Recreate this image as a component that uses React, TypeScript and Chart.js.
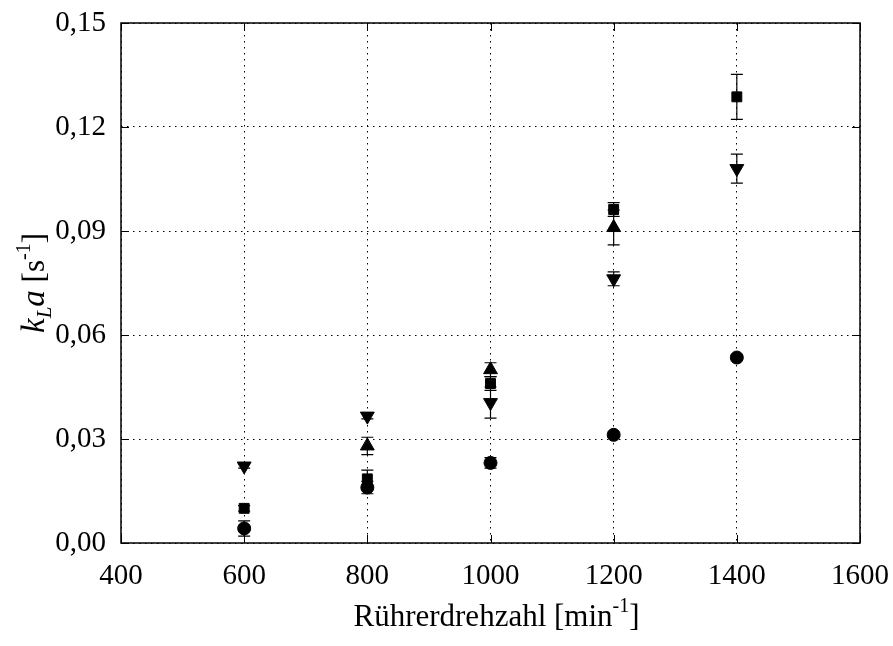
import React, { useEffect, useRef } from "react";
import { Chart, registerables } from "chart.js";

Chart.register(...registerables);

const rpm = [600, 800, 1000, 1200, 1400];
const squareVals = [0.0100, 0.0185, 0.0460, 0.0962, 0.1287];
const squareErr = [0.0008, 0.0025, 0.0020, 0.0020, 0.0065];
const circleVals = [0.0042, 0.0160, 0.0231, 0.0312, 0.0535];
const circleErr = [0.0022, 0.0018, 0.0015, 0.0008, 0.0007];
const triUpVals = [null, 0.0280, 0.0500, 0.0910, null];
const triUpErr = [null, 0.0025, 0.0020, 0.0050, null];
const triDownVals = [0.0222, 0.0366, 0.0405, 0.0762, 0.1080];
const triDownErr = [0.0006, 0.0008, 0.0045, 0.0020, 0.0042];

const xTicks = [400, 600, 800, 1000, 1200, 1400, 1600];
const yTicks = [0, 0.03, 0.06, 0.09, 0.12, 0.15];

const FONT = "'Liberation Serif', 'Times New Roman', serif";

function toPoints(vals: (number | null)[]) {
  return rpm
    .map((x, i) => ({ x, y: vals[i] }))
    .filter((p) => p.y !== null);
}

const errorBars = {
  id: "errorBars",
  afterDatasetsDraw(chart: any) {
    const ctx = chart.ctx;
    const ys = chart.scales.y;
    const xs = chart.scales.x;
    ctx.save();
    ctx.strokeStyle = "#000";
    ctx.lineWidth = 1.2;
    chart.data.datasets.forEach((ds: any) => {
      const errs = ds.errors as (number | null)[];
      ds.data.forEach((p: any) => {
        const idx = rpm.indexOf(p.x);
        const e = errs[idx];
        if (e == null) return;
        const px = xs.getPixelForValue(p.x);
        const y1 = ys.getPixelForValue(p.y + e);
        const y2 = ys.getPixelForValue(p.y - e);
        ctx.beginPath();
        ctx.moveTo(px, y1);
        ctx.lineTo(px, y2);
        ctx.moveTo(px - 6, y1);
        ctx.lineTo(px + 6, y1);
        ctx.moveTo(px - 6, y2);
        ctx.lineTo(px + 6, y2);
        ctx.stroke();
      });
    });
    ctx.restore();
  },
};

const frame = {
  id: "frame",
  afterDraw(chart: any) {
    const { ctx, chartArea: a } = chart;
    const xs = chart.scales.x;
    const ys = chart.scales.y;
    ctx.save();
    ctx.strokeStyle = "#000";
    ctx.lineWidth = 1.5;
    ctx.strokeRect(a.left, a.top, a.right - a.left, a.bottom - a.top);
    ctx.lineWidth = 1;
    ctx.beginPath();
    xTicks.forEach((v) => {
      const px = Math.round(xs.getPixelForValue(v)) + 0.5;
      ctx.moveTo(px, a.bottom);
      ctx.lineTo(px, a.bottom - 8);
      ctx.moveTo(px, a.top);
      ctx.lineTo(px, a.top + 8);
    });
    yTicks.forEach((v) => {
      const py = Math.round(ys.getPixelForValue(v)) + 0.5;
      ctx.moveTo(a.left, py);
      ctx.lineTo(a.left + 8, py);
      ctx.moveTo(a.right, py);
      ctx.lineTo(a.right - 8, py);
    });
    ctx.stroke();

    // x title
    ctx.fillStyle = "#000";
    const cx = (a.left + a.right) / 2 + 6;
    const base = 626;
    const main = "Rührerdrehzahl [min";
    const sup = "-1";
    const end = "]";
    ctx.textBaseline = "alphabetic";
    ctx.font = `31px ${FONT}`;
    const w1 = ctx.measureText(main).width;
    const w3 = ctx.measureText(end).width;
    ctx.font = `20px ${FONT}`;
    const w2 = ctx.measureText(sup).width;
    const x0 = cx - (w1 + w2 + w3) / 2;
    ctx.textAlign = "left";
    ctx.font = `31px ${FONT}`;
    ctx.fillText(main, x0, base);
    ctx.font = `20px ${FONT}`;
    ctx.fillText(sup, x0 + w1, base - 14);
    ctx.font = `31px ${FONT}`;
    ctx.fillText(end, x0 + w1 + w2, base);

    // y title (rotated)
    ctx.save();
    ctx.translate(44, (a.top + a.bottom) / 2);
    ctx.rotate(-Math.PI / 2);
    const parts = [
      { t: "k", f: `italic 33px ${FONT}`, dy: 0 },
      { t: "L", f: `italic 21px ${FONT}`, dy: 7 },
      { t: "a", f: `italic 33px ${FONT}`, dy: 0 },
      { t: " [s", f: `31px ${FONT}`, dy: 0 },
      { t: "-1", f: `20px ${FONT}`, dy: -14 },
      { t: "]", f: `31px ${FONT}`, dy: 0 },
    ];
    let total = 0;
    const widths = parts.map((p) => {
      ctx.font = p.f;
      const w = ctx.measureText(p.t).width;
      total += w;
      return w;
    });
    let xx = -total / 2;
    parts.forEach((p, i) => {
      ctx.font = p.f;
      ctx.fillText(p.t, xx, p.dy);
      xx += widths[i];
    });
    ctx.restore();
    ctx.restore();
  },
};

function zeroPad(s: any) {
  s.paddingTop = 0;
  s.paddingBottom = 0;
  s.paddingLeft = 0;
  s.paddingRight = 0;
}

export default function App() {
  const ref = useRef<HTMLCanvasElement>(null);
  useEffect(() => {
    document.body.style.margin = "0";
    const common = {
      backgroundColor: "#000",
      borderColor: "#000",
      showLine: false,
    };
    const chart = new Chart(ref.current as HTMLCanvasElement, {
      type: "scatter",
      data: {
        datasets: [
          { ...common, label: "square", data: toPoints(squareVals), errors: squareErr, pointStyle: "rect", pointRadius: 7 } as any,
          { ...common, label: "circle", data: toPoints(circleVals), errors: circleErr, pointStyle: "circle", pointRadius: 6.5 } as any,
          { ...common, label: "triUp", data: toPoints(triUpVals), errors: triUpErr, pointStyle: "triangle", pointRadius: 8 } as any,
          { ...common, label: "triDown", data: toPoints(triDownVals), errors: triDownErr, pointStyle: "triangle", rotation: 180, pointRadius: 8 } as any,
        ],
      },
      options: {
        animation: false,
        responsive: false,
        devicePixelRatio: 1,
        layout: { padding: { left: 0, top: 23, right: 33, bottom: 0 } },
        plugins: { legend: { display: false }, tooltip: { enabled: false } },
        scales: {
          x: {
            type: "linear",
            min: 400,
            max: 1600,
            afterBuildTicks: (s: any) => {
              s.ticks = xTicks.map((v) => ({ value: v }));
            },
            afterFit: (s: any) => {
              s.height = 103;
              zeroPad(s);
            },
            ticks: {
              color: "#000",
              font: { family: FONT, size: 29 },
              padding: 16,
              maxRotation: 0,
              callback: (v: any) => String(v),
            },
            grid: { color: "#000", lineWidth: 1, drawTicks: false } as any,
            border: { display: false, dash: [1.5, 4.5] },
          },
          y: {
            type: "linear",
            min: 0,
            max: 0.15,
            afterBuildTicks: (s: any) => {
              s.ticks = yTicks.map((v) => ({ value: v }));
            },
            afterFit: (s: any) => {
              s.width = 121;
              zeroPad(s);
            },
            ticks: {
              color: "#000",
              font: { family: FONT, size: 29 },
              padding: 15,
              callback: (v: any) => Number(v).toFixed(2).replace(".", ","),
            },
            grid: { color: "#000", lineWidth: 1, drawTicks: false } as any,
            border: { display: false, dash: [1.5, 4.5] },
          },
        },
      } as any,
      plugins: [errorBars, frame],
    });
    return () => chart.destroy();
  }, []);
  return (
    <div style={{ position: "absolute", left: 0, top: 0, width: 893, height: 646 }}>
      <canvas ref={ref} width={893} height={646} style={{ width: 893, height: 646 }} />
    </div>
  );
}
